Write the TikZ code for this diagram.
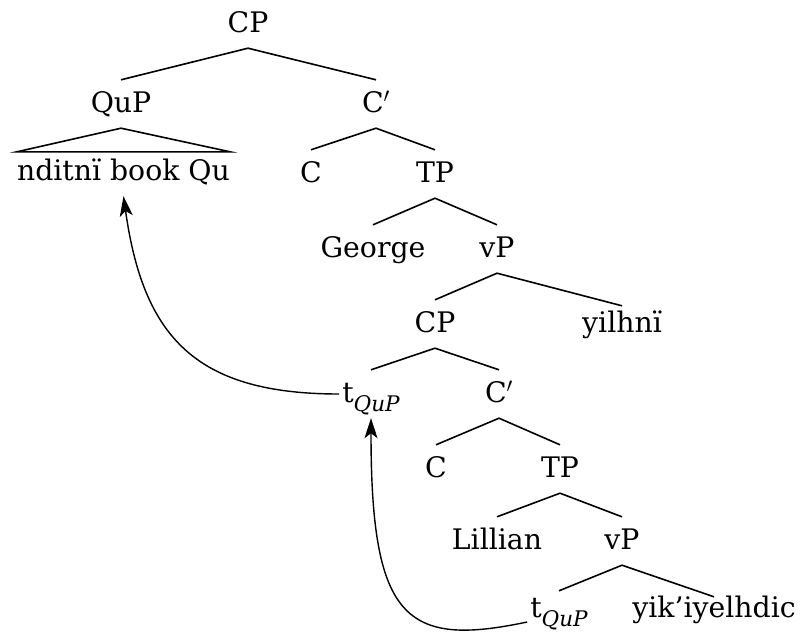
\documentclass[tikz,border=0pt]{standalone}
\usepackage{fontspec}
\setmainfont{DejaVu Serif}
\usetikzlibrary{arrows.meta}
\newcommand{\trc}{t\raisebox{-9pt}{\fontsize{21.5}{22}\selectfont\itshape QuP}}
\newcommand{\cbar}{C\ensuremath{'}}
\tikzset{
  lbl/.style={font=\fontsize{28.3}{30}\selectfont, text height=24pt, text depth=8pt,
              inner xsep=3pt, inner ysep=8pt, anchor=base},
  branch/.style={line width=1.6pt},
  move/.style={line width=1.4pt, arrows={-Stealth[length=20pt,width=13pt,inset=5pt]}}
}
\begin{document}
\begin{tikzpicture}[x=1pt,y=-1pt]
\useasboundingbox (0,0) rectangle (801,637);
% nodes
\node[lbl] (cp1) at (248,32) {CP};
\node[lbl] (qup) at (121,112) {QuP};
\node[lbl] (cb1) at (376,112) {\cbar};
\node[lbl, text height=20pt, inner xsep=0pt] (nbq) at (123.5,180) {nditnï book Qu};
\node[lbl] (c1) at (311,182) {C};
\node[lbl] (tp1) at (435,182) {TP};
\node[lbl] (geo) at (373,257) {George};
\node[lbl] (vp1) at (497,257) {vP};
\node[lbl] (cp2) at (435,332) {CP};
\node[lbl] (yil) at (622,332) {yilhnï};
\node[lbl] (t1) at (371,402) {\trc};
\node[lbl] (cb2) at (499,402) {\cbar};
\node[lbl] (c2) at (436,477) {C};
\node[lbl] (tp2) at (560,477) {TP};
\node[lbl] (lil) at (497,549) {Lillian};
\node[lbl] (vp2) at (622,549) {vP};
\node[lbl] (t2) at (559,617) {\trc};
\node[lbl] (yik) at (714,617) {yik’iyelhdic};
% branches
\draw[branch] (qup.north) -- (cp1.south) -- (cb1.north);
\draw[branch] (qup.south) -- (nbq.north west) -- (nbq.north east) -- cycle;
\draw[branch] (c1.north) -- (cb1.south) -- (tp1.north);
\draw[branch] (geo.north) -- (tp1.south) -- (vp1.north);
\draw[branch] (cp2.north) -- (vp1.south) -- ([yshift=-6pt]yil.north);
\draw[branch] (t1.north) -- (cp2.south) -- (cb2.north);
\draw[branch] (c2.north) -- (cb2.south) -- (tp2.north);
\draw[branch] (lil.north) -- (tp2.south) -- (vp2.north);
\draw[branch] ([yshift=-6pt]t2.north) -- (vp2.south) -- ([yshift=-12pt]yik.north);
% movement arrows
\draw[move] (t1.west) to[out=180, in=-82, looseness=1.25] (nbq.south);
\draw[move] ([yshift=-13pt]t2.west) to[out=192, in=-90, out looseness=1.25, in looseness=2] (t1.south);
\end{tikzpicture}
\end{document}
